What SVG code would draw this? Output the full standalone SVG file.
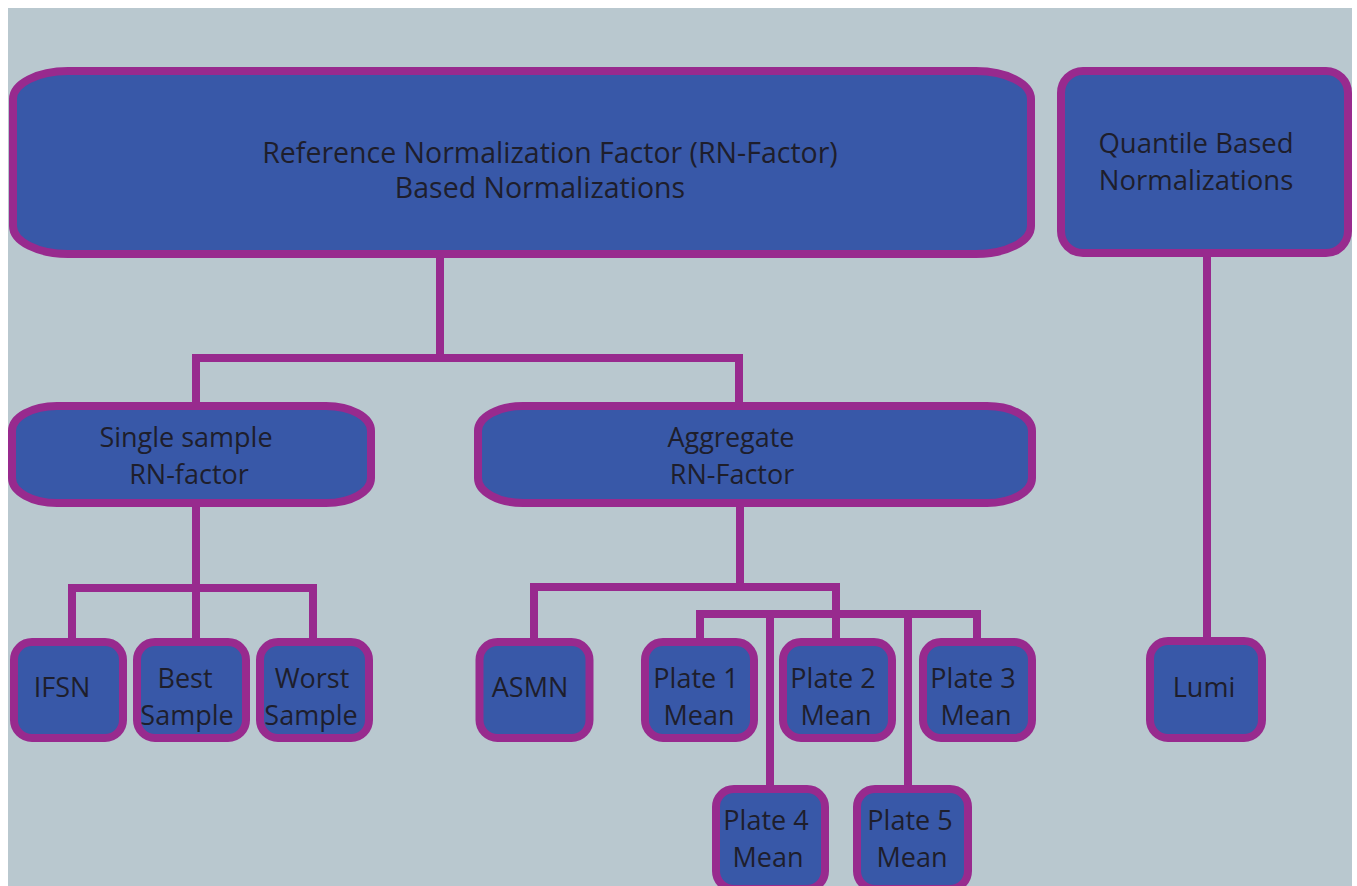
<svg xmlns="http://www.w3.org/2000/svg" width="1357" height="886" viewBox="0 0 1357 886">
<style>
.bg{fill:#b9c8cf}
.n{fill:#3858a8;stroke:#982a8e;stroke-width:8}
.c{fill:none;stroke:#982a8e;stroke-width:8;stroke-linejoin:miter}
.t{font-family:"Open Sans","Noto Sans",sans-serif;font-size:27px;fill:#1e1e2c;text-anchor:middle}
.h{font-size:28.5px}
.q{font-size:27.5px}
</style>
<rect width="1357" height="886" fill="#ffffff"/>
<rect class="bg" x="8" y="8" width="1344" height="878"/>
<g id="connectors">
<path class="c" d="M440 254 V358 M196 406 V358 H739 V406"/>
<path class="c" d="M196 503 V588 M72 642 V588 H313 V642 M196 588 V642"/>
<path class="c" d="M740 503 V587 M534 642 V587 H836 V642"/>
<path class="c" d="M700 642 V614 H977 V642 M770 614 V789 M908 614 V789"/>
<path class="c" d="M1207 253 V641"/>
</g>
<g id="rn-factor">
<rect class="n" x="13" y="71" width="1018" height="183" rx="55" ry="28"/>
<text class="t h" x="550" y="163">Reference Normalization Factor (RN-Factor)</text>
<text class="t h" x="540" y="198">Based Normalizations</text>
</g>
<g id="quantile">
<rect class="n" x="1061" y="71" width="287" height="182" rx="22" ry="22"/>
<text class="t q" x="1196" y="153">Quantile Based</text>
<text class="t q" x="1196" y="190">Normalizations</text>
</g>
<g id="single">
<rect class="n" x="12" y="406" width="359" height="97" rx="45" ry="25"/>
<text class="t" x="186" y="447">Single sample</text>
<text class="t" x="189" y="484">RN-factor</text>
</g>
<g id="aggregate">
<rect class="n" x="478" y="406" width="554" height="97" rx="45" ry="25"/>
<text class="t" x="731" y="447">Aggregate</text>
<text class="t" x="732" y="484">RN-Factor</text>
</g>
<g id="ifsn">
<rect class="n" x="14" y="642" width="109" height="96" rx="18"/>
<text class="t" x="62" y="697">IFSN</text>
</g>
<g id="best">
<rect class="n" x="137" y="642" width="109" height="96" rx="18"/>
<text class="t" x="185" y="688">Best</text>
<text class="t" x="187" y="725">Sample</text>
</g>
<g id="worst">
<rect class="n" x="260" y="642" width="109" height="96" rx="18"/>
<text class="t" x="312" y="688">Worst</text>
<text class="t" x="311" y="725">Sample</text>
</g>
<g id="asmn">
<rect class="n" x="479.5" y="642" width="110" height="96" rx="18"/>
<text class="t" x="530" y="697">ASMN</text>
</g>
<g id="plate1">
<rect class="n" x="645" y="642" width="109" height="96" rx="18"/>
<text class="t" x="696" y="688">Plate 1</text>
<text class="t" x="699" y="725">Mean</text>
</g>
<g id="plate2">
<rect class="n" x="783" y="642" width="109" height="96" rx="18"/>
<text class="t" x="833" y="688">Plate 2</text>
<text class="t" x="836" y="725">Mean</text>
</g>
<g id="plate3">
<rect class="n" x="923" y="642" width="109" height="96" rx="18"/>
<text class="t" x="973" y="688">Plate 3</text>
<text class="t" x="976" y="725">Mean</text>
</g>
<g id="plate4">
<rect class="n" x="716" y="789" width="109" height="100" rx="18"/>
<text class="t" x="766" y="830">Plate 4</text>
<text class="t" x="768" y="867">Mean</text>
</g>
<g id="plate5">
<rect class="n" x="857" y="789" width="111" height="100" rx="18"/>
<text class="t" x="910" y="830">Plate 5</text>
<text class="t" x="912" y="867">Mean</text>
</g>
<g id="lumi">
<rect class="n" x="1150" y="641" width="112" height="97" rx="18"/>
<text class="t" x="1204" y="697">Lumi</text>
</g>
</svg>
